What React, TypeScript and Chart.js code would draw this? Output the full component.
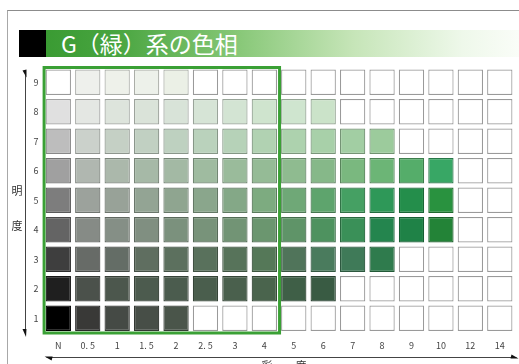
import React, { useEffect, useRef } from "react";
import { Chart, registerables } from "chart.js";

Chart.register(...registerables);

const TITLE = "G（緑）系の色相";
const Y_TITLE = ["明", "度"];
const X_TITLE = ["彩", "度"];
const CHROMA_LABELS = ["N", "0. 5", "1", "1. 5", "2", "2. 5", "3", "4", "5", "6", "7", "8", "9", "10", "12", "14"];
const VALUE_LABELS = [9, 8, 7, 6, 5, 4, 3, 2, 1];
const HIGHLIGHT_LAST = "4";
const W = "#ffffff";

const ROW_9 = [W, "#eef0ec", "#eef1ea", "#edf1ea", "#ebf0e6", W, W, W, W, W, W, W, W, W, W, W];
const ROW_8 = ["#e0e0e0", "#e4e7e3", "#dde4dc", "#dae3d9", "#d8e3d8", "#d6e4d6", "#d3e4d3", "#cfe4ce", "#cfe5cf", "#cbe3c9", W, W, W, W, W, W];
const ROW_7 = ["#bdbdbd", "#cbd1cb", "#c5d0c5", "#c1d0c2", "#bed1c0", "#bad2bc", "#b6d2b8", "#b1d2b2", "#add2ae", "#a8d0a9", "#a2cea3", "#9ccb9c", W, W, W, W];
const ROW_6 = ["#a0a0a0", "#b0b7b0", "#abb8ab", "#a6b9a7", "#a3b9a4", "#9fbba0", "#9abb9b", "#95bb96", "#8fbb90", "#86b889", "#7ab87f", "#6cb576", "#55ad6a", "#38a765", W, W];
const ROW_5 = ["#7d7d7d", "#9ca29c", "#98a298", "#93a494", "#8fa590", "#8aa68c", "#84a887", "#7dab80", "#6fa877", "#5ea46d", "#45a063", "#2e9858", "#248e4b", "#29923f", W, W];
const ROW_4 = ["#646464", "#868b86", "#858f86", "#808f81", "#7b917d", "#78937a", "#729475", "#6b966f", "#5f9468", "#4e925f", "#3a9058", "#24854e", "#1f8247", "#238337", W, W];
const ROW_3 = ["#3e3e3e", "#676b67", "#646d66", "#5f6e60", "#5c705e", "#59715c", "#57735a", "#557858", "#50745a", "#4a7b5d", "#3f7a58", "#2f7b4d", W, W, W, W];
const ROW_2 = ["#1f1f1f", "#4b514b", "#4c574d", "#4c5b4e", "#4b5c4e", "#4a5e4d", "#4a604d", "#4a644d", "#3f5f47", "#395b43", W, W, W, W, W, W];
const ROW_1 = ["#000000", "#393937", "#454a45", "#474e47", "#4a554a", W, W, W, W, W, W, W, W, W, W, W];
const ROWS = [ROW_9, ROW_8, ROW_7, ROW_6, ROW_5, ROW_4, ROW_3, ROW_2, ROW_1];

const CELL = 0.86;

function darken(hex: string): string {
  const n = parseInt(hex.slice(1), 16);
  const r = (n >> 16) & 255, g = (n >> 8) & 255, b = n & 255;
  if (r === 255 && g === 255 && b === 255) return "#9a9a9a";
  const f = 0.72;
  return `rgb(${Math.round(r * f)},${Math.round(g * f)},${Math.round(b * f)})`;
}

const decorPlugin = {
  id: "decor",
  afterDatasetsDraw(chart: any) {
    const { ctx, chartArea, scales } = chart;
    const x = scales.x;
    const half = (x.getPixelForValue(1) - x.getPixelForValue(0)) / 2;
    const last = CHROMA_LABELS.indexOf(HIGHLIGHT_LAST);
    const left = x.getPixelForValue(0) - half;
    const right = x.getPixelForValue(last) + half;
    ctx.save();
    ctx.strokeStyle = "#3aa035";
    ctx.lineWidth = 3;
    ctx.strokeRect(left + 0.5, chartArea.top, right - left, chartArea.bottom - chartArea.top);
    ctx.restore();
  },
  afterDraw(chart: any) {
    const { ctx, chartArea } = chart;
    ctx.save();
    ctx.strokeStyle = "#444";
    ctx.fillStyle = "#111";
    ctx.lineWidth = 1;
    // vertical arrow
    const ax = 25.5;
    const top = chartArea.top + 4;
    const bot = chartArea.bottom + 2;
    ctx.beginPath();
    ctx.moveTo(ax, top);
    ctx.lineTo(ax, bot);
    ctx.stroke();
    ctx.beginPath();
    ctx.moveTo(ax - 3, top - 1);
    ctx.lineTo(ax + 1, top - 2);
    ctx.lineTo(ax + 1, top + 6);
    ctx.closePath();
    ctx.fill();
    ctx.beginPath();
    ctx.moveTo(ax - 3, bot - 6);
    ctx.lineTo(ax + 1, bot - 6);
    ctx.lineTo(ax + 0.5, bot + 2);
    ctx.closePath();
    ctx.fill();
    // horizontal arrow
    const ay = 357.5;
    const l = chartArea.left + 3;
    const r = chartArea.right + 2;
    ctx.beginPath();
    ctx.moveTo(l, ay);
    ctx.lineTo(r, ay);
    ctx.stroke();
    ctx.beginPath();
    ctx.moveTo(l - 2, ay - 1);
    ctx.lineTo(l + 6, ay - 1);
    ctx.lineTo(l + 5, ay + 3);
    ctx.closePath();
    ctx.fill();
    ctx.beginPath();
    ctx.moveTo(r + 2, ay + 1);
    ctx.lineTo(r - 6, ay + 1);
    ctx.lineTo(r - 5, ay - 3);
    ctx.closePath();
    ctx.fill();
    // titles
    ctx.fillStyle = "#333";
    ctx.font = "11px 'Noto Sans CJK JP'";
    ctx.textAlign = "center";
    ctx.textBaseline = "middle";
    ctx.fillText(Y_TITLE[0], 17, 191);
    ctx.fillText(Y_TITLE[1], 17, 226);
    ctx.textBaseline = "top";
    ctx.fillText(X_TITLE[0], 267, 360);
    ctx.fillText(X_TITLE[1], 301, 360);
    ctx.restore();
  },
};

export default function App() {
  const ref = useRef<HTMLCanvasElement>(null);
  useEffect(() => {
    if (!ref.current) return;
    const datasets = ROWS.map((row, i) => {
      const v = VALUE_LABELS[i];
      return {
        label: String(v),
        data: row.map(() => [v - CELL / 2, v + CELL / 2]),
        backgroundColor: row,
        borderColor: row.map(darken),
        borderWidth: 1.2,
        borderSkipped: false,
        barPercentage: CELL,
        categoryPercentage: 1,
        grouped: false,
      };
    });
    const chart = new Chart(ref.current, {
      type: "bar",
      data: { labels: CHROMA_LABELS, datasets } as any,
      options: {
        animation: false,
        responsive: false,
        layout: { padding: { top: 67.5, right: 4.5, bottom: 0, left: 0 } },
        plugins: { legend: { display: false }, tooltip: { enabled: false } },
        scales: {
          x: {
            type: "category",
            grid: { display: false, drawTicks: false },
            border: { display: false },
            ticks: { color: "#444", font: { size: 9, family: "'Noto Sans CJK JP'" }, padding: 7, maxRotation: 0, autoSkip: false },
            afterFit: (s: any) => { s.height = 31; },
          },
          y: {
            type: "linear",
            min: 0.5,
            max: 9.5,
            grid: { display: false, drawTicks: false },
            border: { display: false },
            afterBuildTicks: (s: any) => { s.ticks = VALUE_LABELS.map((v) => ({ value: v })); },
            ticks: { color: "#444", font: { size: 9, family: "'Noto Sans CJK JP'" }, padding: 5 },
            afterFit: (s: any) => { s.width = 43.6; },
          },
        },
      } as any,
      plugins: [decorPlugin],
    });
    return () => chart.destroy();
  }, []);

  return (
    <div style={{ position: "fixed", left: 0, top: 0, width: 519, height: 364, overflow: "hidden", background: "#fff" }}>
      <div style={{ position: "absolute", left: 7, top: 10, right: 0, bottom: 0, borderTop: "1px solid #8c8c8c", borderLeft: "1.5px solid #a8a8a8" }} />
      <div style={{ position: "absolute", left: 19, top: 30, width: 27, height: 27, background: "#000" }} />
      <div
        style={{
          position: "absolute", left: 46, top: 30, width: 473, height: 27,
          background: "linear-gradient(to right, #3a9b33 0%, #49a540 15%, #86c776 40%, #c6e5b8 65%, #eef8ea 88%, #fafdf8 100%)",
        }}
      />
      <div
        style={{
          position: "absolute", left: 61, top: 29, height: 29, lineHeight: "29px", color: "#fff",
          fontFamily: "'Noto Sans CJK JP'", fontSize: 23, whiteSpace: "nowrap",
        }}
      >
        {TITLE}
      </div>
      <canvas ref={ref} width={519} height={364} style={{ position: "absolute", left: 0, top: 0 }} />
    </div>
  );
}
